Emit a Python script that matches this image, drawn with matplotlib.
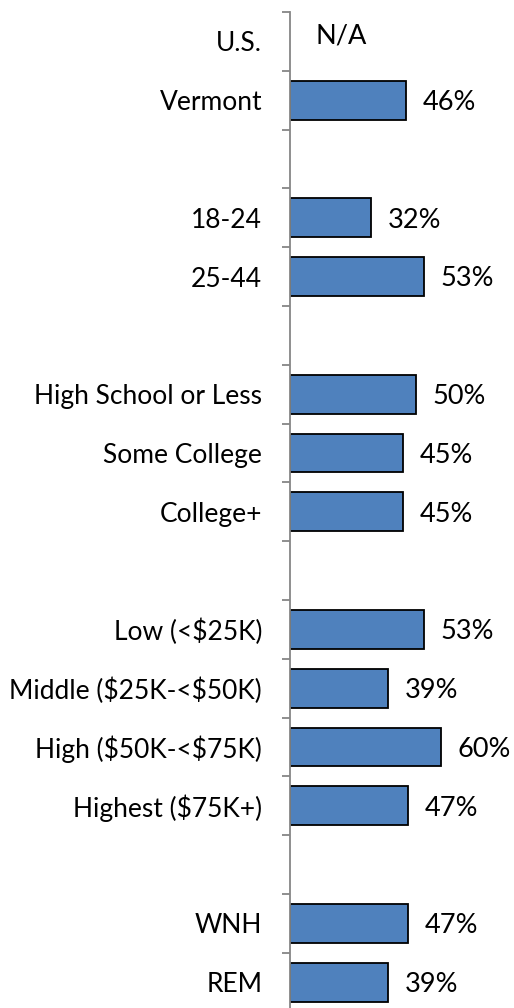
import matplotlib
matplotlib.use("Agg")
import matplotlib.pyplot as plt
import numpy as np

categories = ["U.S.", "Vermont", "", "18-24", "25-44", "", "High School or Less",
              "Some College", "College+", "", "Low (<$25K)", "Middle ($25K-<$50K)",
              "High ($50K-<$75K)", "Highest ($75K+)", "", "WNH", "REM"]
values = [None, 46, None, 32, 53, None, 50, 45, 45, None, 53, 39, 60, 47, None, 47, 39]
value_labels = ["N/A", "46%", "", "32%", "53%", "", "50%", "45%", "45%", "",
                "53%", "39%", "60%", "47%", "", "47%", "39%"]

W, H = 514, 1008
plt.rcParams['font.family'] = ['Lato', 'DejaVu Sans']
plt.rcParams['text.parse_math'] = False
fig = plt.figure(figsize=(W / 100, H / 100), dpi=100)

ax_left = 290 / W
ax_top = 12
pitch = 58.8
n = len(categories)
ax_h = pitch * n
ax = fig.add_axes([ax_left, 1 - (ax_top + ax_h) / H, (W - 290) / W, ax_h / H])
px_per_pct = 2.52
ax.set_xlim(0, (W - 290) / px_per_pct)
ax.set_ylim(n, 0)

y = np.arange(n) + 0.5
fs = 19
vfs = 19.5
for i, v in enumerate(values):
    if v is not None:
        ax.barh(y[i], v, height=0.66, color="#4F81BD", edgecolor="black", linewidth=1.3)
        ax.annotate(value_labels[i], (v, y[i] + 0.04), xytext=(12, 0), textcoords="offset points",
                    va="center", ha="left", fontsize=vfs, color="black")
    elif value_labels[i]:
        ax.annotate(value_labels[i], (0, y[i] - 0.1), xytext=(18, 0), textcoords="offset points",
                    va="center", ha="left", fontsize=vfs, color="black")

for s in ["top", "right", "bottom"]:
    ax.spines[s].set_visible(False)
ax.spines["left"].set_color("#868686")
ax.spines["left"].set_linewidth(1.3)
ax.set_xticks([])
ax.set_yticks(y)
ax.set_yticklabels(categories, fontsize=fs)
ax.tick_params(axis="y", which="major", length=0, pad=20)
ax.set_yticks(np.arange(n + 1), minor=True)
ax.tick_params(axis="y", which="minor", length=6, width=1.3, color="#868686", direction="out")
ax.patch.set_alpha(0)

fig.savefig("out.png", dpi=100)
